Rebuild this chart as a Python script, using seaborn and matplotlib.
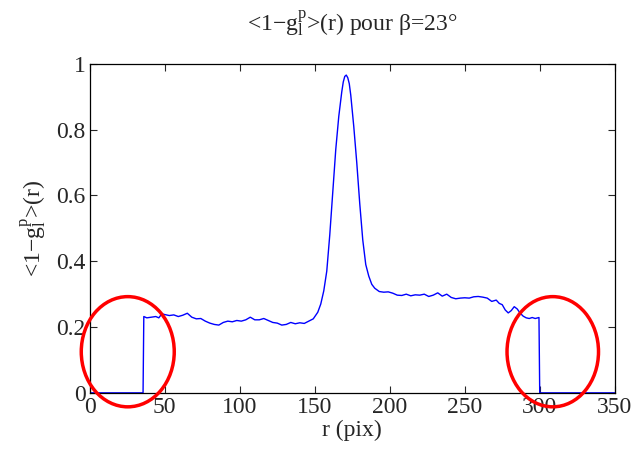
import matplotlib.pyplot as plt
import pandas as pd
import seaborn as sns
from matplotlib.patches import Ellipse

sns.set_style('ticks')
plt.rcParams['font.family'] = ['Liberation Serif', 'DejaVu Serif']
plt.rcParams['mathtext.fontset'] = 'custom'
plt.rcParams['mathtext.rm'] = 'Liberation Serif'
plt.rcParams['mathtext.it'] = 'Liberation Serif'

# profile
r = [0, 35.5, 36, 38, 41, 44, 46, 48, 50, 53, 56, 59, 62, 65, 68, 71, 74, 77,
     80, 83, 86, 89, 92, 95, 98, 101, 104, 107, 110, 113, 116, 119, 122, 125,
     128, 131, 134, 137, 140, 143, 146, 149, 152, 154, 156, 158, 160, 162, 164,
     166, 168, 169, 170, 171, 172, 173, 174, 176, 178, 180, 182, 184, 186, 188,
     190, 193, 196, 199, 202, 205, 208, 211, 214, 217, 220, 223, 226, 229, 232,
     235, 238, 241, 244, 247, 250, 253, 256, 259, 262, 265, 268, 271, 273, 275,
     277, 279, 281, 283, 285, 287, 289, 291, 293, 295, 297, 299.5, 300, 350]
g = [0, 0, 0.232, 0.228, 0.230, 0.232, 0.228, 0.240, 0.238, 0.235, 0.237,
     0.232, 0.236, 0.242, 0.230, 0.225, 0.226, 0.218, 0.212, 0.208, 0.206,
     0.214, 0.218, 0.216, 0.220, 0.218, 0.222, 0.230, 0.222, 0.222, 0.226,
     0.220, 0.214, 0.212, 0.206, 0.208, 0.214, 0.210, 0.213, 0.211, 0.218,
     0.225, 0.245, 0.270, 0.310, 0.370, 0.480, 0.610, 0.740, 0.840, 0.915,
     0.945, 0.962, 0.966, 0.958, 0.940, 0.905, 0.810, 0.700, 0.575, 0.465,
     0.390, 0.355, 0.330, 0.318, 0.308, 0.306, 0.307, 0.303, 0.297, 0.296,
     0.300, 0.295, 0.298, 0.297, 0.300, 0.293, 0.297, 0.304, 0.294, 0.300,
     0.290, 0.286, 0.288, 0.289, 0.288, 0.292, 0.293, 0.291, 0.288, 0.278,
     0.282, 0.272, 0.268, 0.252, 0.243, 0.250, 0.262, 0.255, 0.242, 0.233,
     0.228, 0.226, 0.229, 0.226, 0.229, 0, 0]

xticks = [0, 50, 100, 150, 200, 250, 300, 350]
yticks = [0, 0.2, 0.4, 0.6, 0.8, 1]
ytick_labels = ['0', '0.2', '0.4', '0.6', '0.8', '1']

# highlighted regions (centre x, centre y, width, height)
circles = [(25.3, 0.125, 62, 0.335), (308.7, 0.125, 61, 0.335)]

df = pd.DataFrame({'r': r, 'g': g})

fig = plt.figure(figsize=(6.37, 4.5), dpi=100)
ax = fig.add_axes([0.141, 0.127, 0.824, 0.731])
sns.lineplot(data=df, x='r', y='g', sort=False, estimator=None,
             color='#0000ff', linewidth=1.0, ax=ax)

for cx, cy, w, h in circles:
    ax.add_patch(Ellipse((cx, cy), w, h, fill=False, edgecolor='#ff0000',
                         linewidth=2.5, clip_on=False, zorder=5))

ax.set_xlim(0, 350)
ax.set_ylim(0, 1)
ax.set_xticks(xticks)
ax.set_yticks(yticks)
ax.set_yticklabels(ytick_labels)
ax.tick_params(direction='in', length=5, width=0.8, labelsize=17,
               top=True, right=True, pad=3)
for s in ax.spines.values():
    s.set_linewidth(0.9)
    s.set_color('black')

ax.set_xlabel('r (pix)', fontsize=17, labelpad=1)
ax.set_ylabel(r'<1$-\mathregular{g_l^p}$>(r)', fontsize=17, labelpad=6)
ax.set_title(r'<1$-\mathregular{g_l^p}$>(r) pour β=23°', fontsize=17, pad=24)

fig.savefig('out.png', dpi=100)
